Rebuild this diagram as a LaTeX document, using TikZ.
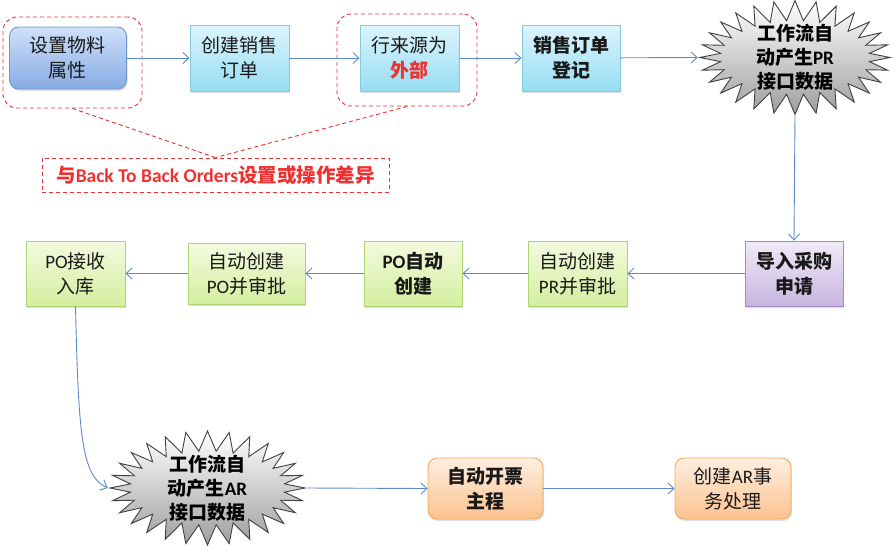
\documentclass[tikz,border=0pt]{standalone}
\usepackage{fontspec}
\setmainfont{Noto Sans CJK SC}
\newfontfamily\lat{Carlito}[BoldFont={Carlito Bold}]
\usetikzlibrary{shapes.symbols,arrows.meta,shadows}
\definecolor{arrowc}{HTML}{5B8BC9}
\definecolor{blueT}{HTML}{CFE0FA}\definecolor{blueB}{HTML}{86ABE3}\definecolor{blueD}{HTML}{7096CF}
\definecolor{cyanT}{HTML}{DDF4FC}\definecolor{cyanB}{HTML}{96DDF3}\definecolor{cyanD}{HTML}{86C8DE}
\definecolor{grnT}{HTML}{F4FADF}\definecolor{grnB}{HTML}{D3EE9E}\definecolor{grnD}{HTML}{AED474}
\definecolor{purT}{HTML}{F1EAF8}\definecolor{purB}{HTML}{C7B5DF}\definecolor{purD}{HTML}{A08CC2}
\definecolor{orT}{HTML}{FEEEE0}\definecolor{orB}{HTML}{FBC38F}\definecolor{orD}{HTML}{F3A862}
\definecolor{redd}{HTML}{F03030}
\begin{document}
\begin{tikzpicture}[x=1pt,y=-1pt,
  base/.style={draw, line width=0.9pt, align=center, text=black!90,
    font=\fontsize{19}{25}\selectfont, inner sep=1pt,
    drop shadow={opacity=0.25, shadow xshift=1.2pt, shadow yshift=-2pt}},
  bold/.style={font=\fontsize{19}{25}\selectfont\bfseries},
  bluebox/.style={base, rounded corners=9pt, top color=blueT, bottom color=blueB, draw=blueD},
  cyanbox/.style={base, top color=cyanT, bottom color=cyanB, draw=cyanD},
  grnbox/.style={base, top color=grnT, bottom color=grnB, draw=grnD},
  purbox/.style={base, top color=purT, bottom color=purB, draw=purD},
  orbox/.style={base, rounded corners=9pt, top color=orT, bottom color=orB, draw=orD},
  burst/.style={starburst, starburst points=28, starburst point height=20pt,
    random starburst=0, draw=black!75, line width=0.9pt,
    top color=white, bottom color=black!38, inner sep=0pt},
  bursttext/.style={align=center, inner sep=0pt, text=black,
    font=\fontsize{19}{24}\selectfont\bfseries},
  reddash/.style={draw=redd, dashed, line width=0.9pt, dash pattern=on 4pt off 3pt},
  conn/.style={draw=arrowc, line width=0.9pt, -{Straight Barb[length=6pt,width=11pt]}}
]
\useasboundingbox (0,0) rectangle (895,550);

% dashed highlight frames
\node[reddash, rounded corners=14pt, minimum width=139pt, minimum height=91pt] (dashA) at (72.5,62.5) {};
\node[reddash, rounded corners=14pt, minimum width=140pt, minimum height=92pt] (dashB) at (407,60) {};

% row 1
\node[bluebox, minimum width=117pt, minimum height=62pt] (b1) at (68,58) {设置物料\\属性};
\node[cyanbox, minimum width=99pt, minimum height=66pt] (b2) at (239.5,58) {创建销售\\订单};
\node[cyanbox, minimum width=99pt, minimum height=66pt] (b3) at (409.5,58) {行来源为\\{\color{redd}\bfseries 外部}};
\node[cyanbox, bold, minimum width=98pt, minimum height=66pt] (b4) at (571,58) {销售订单\\登记};
\node[burst, minimum width=190pt, minimum height=114pt] (sb1) at (795,57.5) {};
\node[bursttext] (sb1t) at (sb1) {工作流自\\动产生{\lat PR}\\接口数据};

% note
\node[reddash, minimum width=347pt, minimum height=34pt, text=redd,
  font=\fontsize{19.5}{20}\selectfont\bfseries] (note) at (215.5,175) {与{\lat Back To Back Orders}设置或操作差异};
\draw[reddash] (dashA.south) -- (note.north);
\draw[reddash] (dashB.south) -- (note.north);

% row 2
\node[purbox, bold, minimum width=98pt, minimum height=65pt] (p1) at (794,273.5) {导入采购\\申请};
\node[grnbox, minimum width=99pt, minimum height=65pt] (p2) at (577.5,273.5) {自动创建\\{\lat PR}并审批};
\node[grnbox, bold, minimum width=98pt, minimum height=65pt] (p3) at (413,273.5) {{\lat PO}自动\\创建};
\node[grnbox, minimum width=117pt, minimum height=61pt] (p4) at (246.5,273.5) {自动创建\\{\lat PO}并审批};
\node[grnbox, minimum width=99pt, minimum height=65pt] (p5) at (75.5,273.5) {{\lat PO}接收\\入库};

% row 3
\node[burst, minimum width=195pt, minimum height=114pt] (sb2) at (207.5,488) {};
\node[bursttext] (sb2t) at (sb2) {工作流自\\动产生{\lat AR}\\接口数据};
\node[orbox, bold, minimum width=115pt, minimum height=61pt] (o1) at (485.5,488.5) {自动开票\\主程};
\node[orbox, minimum width=116pt, minimum height=61pt] (o2) at (733,488.5) {创建{\lat AR}事\\务处理};

% connectors
\draw[conn] (b1) -- (b2);
\draw[conn] (b2) -- (b3);
\draw[conn] (b3) -- (b4);
\draw[conn] (b4) -- (sb1.west);
\draw[conn] (sb1.south) -- (p1.north);
\draw[conn] (p1) -- (p2);
\draw[conn] (p2) -- (p3);
\draw[conn] (p3) -- (p4);
\draw[conn] (p4) -- (p5);
\draw[conn] (p5.south) .. controls +(3,130) and +(-26,-12) .. (sb2.west);
\draw[conn] (sb2.east) -- (o1.west);
\draw[conn] (o1) -- (o2);
\end{tikzpicture}
\end{document}
